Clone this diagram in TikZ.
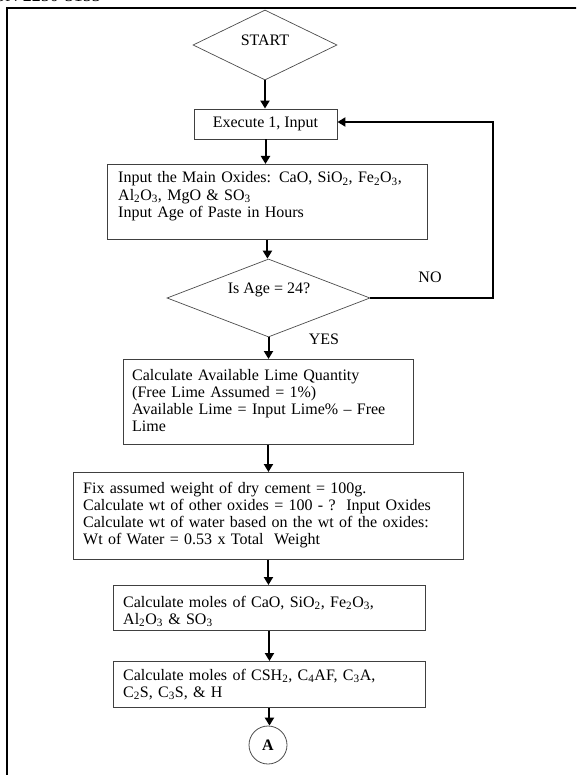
\documentclass[tikz,border=0pt]{standalone}
\usepackage{fontspec}
\setmainfont{Liberation Serif}
\usetikzlibrary{arrows.meta,shapes.geometric}
\begin{document}
\begin{tikzpicture}[x=1pt,y=-1pt,
  font=\fontsize{16}{17.3}\selectfont,
  frame/.style={line width=2.5pt, black},
  box/.style={draw=black!75, line width=0.9pt, rectangle, inner sep=0pt, anchor=north west},
  decision/.style={draw=black!70, line width=0.7pt, diamond, inner sep=0pt},
  txt/.style={inner sep=0pt, anchor=base west, align=left, text width=420pt},
  lbl/.style={inner sep=0pt},
  flow/.style={line width=2pt, -{Triangle[length=8pt,width=9pt]}},
]
\useasboundingbox (0,0) rectangle (576,775);

% page header and frame, cut at the page edge
\begin{scope}
  \clip (0,0) rectangle (576,775);
  \node[inner sep=0pt, anchor=base east, font=\fontsize{18}{18}\selectfont] (hdr) at (101,2) {ISSN 2250-3153};
  \draw[frame] (7,790) -- (7,8) -- (590,8);
\end{scope}

% start
\node[decision, minimum width=144, minimum height=70] (start) at (265,45) {};
\node[lbl] (startT) at (265,40) {START};

% input stage
\node[box, anchor=center, minimum width=143, minimum height=30] (exec) at (265.5,124) {Execute 1, Input};

\node[box, minimum width=320, minimum height=75] (inp) at (107,164) {};
\node[txt] (inpT) at (118,183) {Input the Main Oxides: CaO, SiO\textsubscript{2}, Fe\textsubscript{2}O\textsubscript{3},\\
Al\textsubscript{2}O\textsubscript{3}, MgO \& SO\textsubscript{3}\\
Input Age of Paste in Hours};

% age check
\node[decision, minimum width=203, minimum height=78] (dec) at (268.5,298) {};
\node[lbl] (decT) at (269,290) {Is Age = 24?};
\node[lbl] (no) at (430,277) {NO};
\node[lbl] (yes) at (324,339) {YES};
\coordinate (loopR) at (493,122);

% calculation stages
\node[box, minimum width=290, minimum height=85] (lime) at (123,359) {};
\node[txt] (limeT) at (132,380) {Calculate Available Lime Quantity\\
(Free Lime Assumed = 1\%)\\
Available Lime = Input Lime\% – Free\\
Lime};

\node[box, minimum width=390, minimum height=87] (fix) at (73,472) {};
\node[txt] (fixT) at (83,493) {Fix assumed weight of dry cement = 100g.\\
Calculate wt of other oxides = 100 - ?\ \ Input Oxides\\
Calculate wt of water based on the wt of the oxides:\\
Wt of Water = 0.53 x Total\ \ Weight};

\node[box, minimum width=312, minimum height=45] (mol1) at (113,585) {};
\node[txt] (mol1T) at (123,607) {Calculate moles of CaO, SiO\textsubscript{2}, Fe\textsubscript{2}O\textsubscript{3},\\
Al\textsubscript{2}O\textsubscript{3} \& SO\textsubscript{3}};

\node[box, minimum width=312, minimum height=46] (mol2) at (113,661) {};
\node[txt] (mol2T) at (123,680) {Calculate moles of CSH\textsubscript{2}, C\textsubscript{4}AF, C\textsubscript{3}A,\\
C\textsubscript{2}S, C\textsubscript{3}S, \& H};

\node[circle, draw=black!70, line width=0.8pt, minimum size=38pt, inner sep=0pt, font=\bfseries\fontsize{16}{16}\selectfont] (conA) at (268,745) {A};

% connectors
\draw[flow] (start.south) -- (start.south |- exec.north);
\draw[flow] (exec.south) -- (exec.south |- inp.north);
\draw[flow] (inp.south) -- (inp.south |- dec.north);
\draw[flow] (dec.east) -| (loopR) -- (exec.east |- loopR);
\draw[flow] (dec.south) -- (dec.south |- lime.north);
\draw[flow] (lime.south) -- (lime.south |- fix.north);
\draw[flow] (fix.south) -- (fix.south |- mol1.north);
\draw[flow] (mol1.south) -- (mol1.south |- mol2.north);
\draw[flow] (mol2.south) -- (mol2.south |- conA.north);
\end{tikzpicture}
\end{document}
